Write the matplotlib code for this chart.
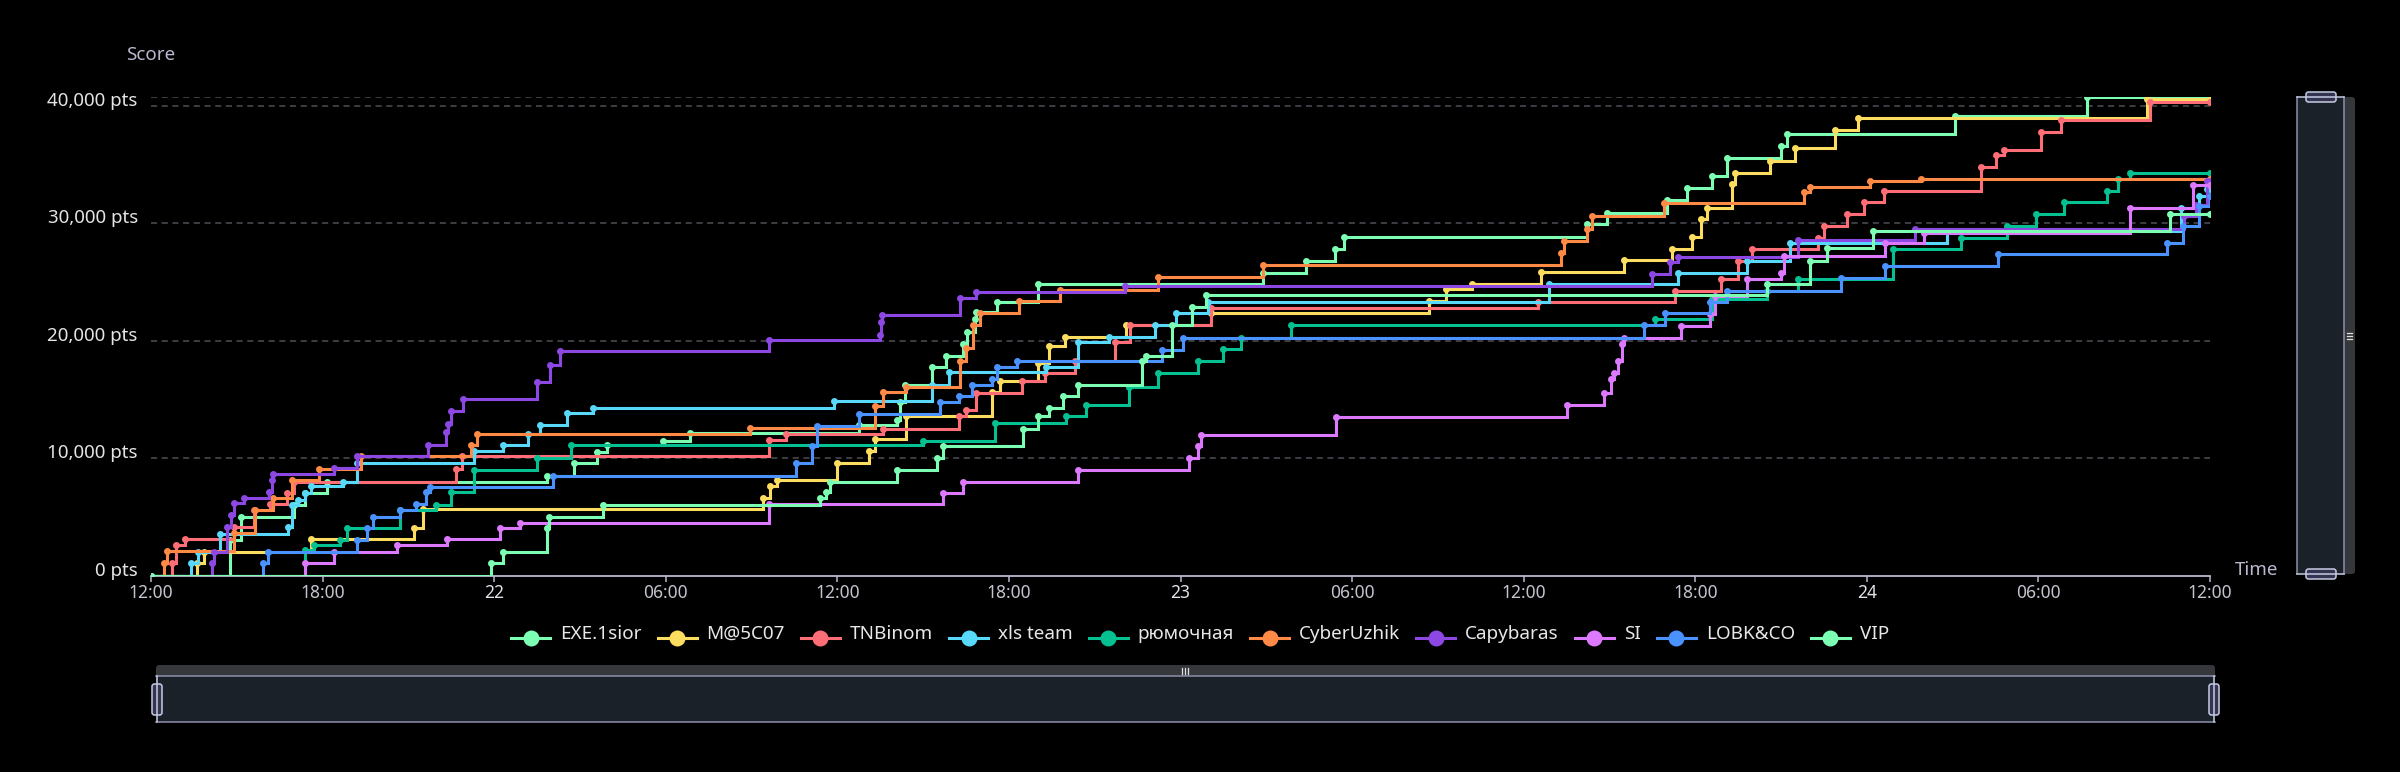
import matplotlib
matplotlib.use("Agg")
import matplotlib.pyplot as plt
from matplotlib.lines import Line2D
from matplotlib.patches import Rectangle, FancyBboxPatch
from matplotlib.transforms import IdentityTransform

plt.rcParams["font.family"] = ["Noto Sans", "DejaVu Sans"]

W, H = 2400, 772
BG = "#000000"
AXIS = "#b9b8ce"
GRID = "#4e4e56"

# hours since 21st 12:00 -> cumulative score
exe_t = [0, 2.75, 3.14, 5.0, 5.4, 6.14, 13.85, 14.8, 15.6, 15.95, 17.9, 18.85, 24.75, 26.1, 26.2,
         26.35, 27.3, 27.8, 28.4, 28.55, 28.8, 28.85, 29.6, 31.0, 38.9, 40.4, 41.4, 41.7, 50.2,
         50.9, 53.0, 53.7, 54.6, 55.1, 57.0, 57.2, 63.1, 67.7, 72]
exe_s = [0, 3040, 5030, 6030, 7020, 8010, 8500, 9580, 10490, 11080, 11480, 12140, 12790, 13270,
         14750, 16260, 17770, 18730, 19670, 20720, 21800, 22400, 23270, 24780, 25780, 26770,
         27830, 28850, 29900, 30890, 31970, 32970, 34010, 35500, 36570, 37570, 39130, 40750, 40750]

m5_t = [0, 1.6, 1.85, 5.6, 9.2, 9.5, 21.4, 21.65, 21.9, 24.0, 25.1, 25.3, 26.4, 29.4, 29.7, 31.0,
        31.4, 31.95, 34.1, 37.05, 44.7, 45.3, 46.2, 48.6, 51.5, 53.2, 53.9, 54.2, 54.4, 55.3, 55.4,
        56.6, 57.5, 58.9, 59.7, 69.8, 72]
m5_s = [0, 1100, 2050, 3100, 4040, 5660, 6600, 7590, 8160, 9630, 10570, 11630, 13560, 15600,
        16600, 18100, 19580, 20320, 21370, 22370, 23360, 24360, 24780, 25830, 26850, 27830, 28850,
        30320, 31320, 33300, 34300, 35300, 36350, 37940, 38960, 40550, 40550]

tnb_t = [0, 0.75, 0.87, 1.18, 2.9, 3.6, 4.17, 4.77, 5.0, 10.65, 10.86, 21.6, 22.2, 25.6, 28.25,
         28.5, 28.85, 30.45, 31.26, 32.3, 33.7, 34.25, 37.05, 48.5, 53.3, 54.9, 55.5, 56.0, 58.3,
         58.5, 59.3, 59.9, 60.6, 64.0, 64.5, 64.8, 66.1, 66.8, 69.9, 72]
tnb_s = [0, 1100, 2620, 3100, 4180, 5600, 6110, 7050, 8010, 9100, 10150, 11570, 12080, 12500,
         13560, 14130, 15550, 16540, 17250, 18240, 19900, 21290, 22800, 23270, 24210, 25270,
         26770, 27770, 28760, 29750, 30750, 31750, 32740, 34730, 35780, 36230, 37770, 38790,
         40270, 40270]

xls_t = [0, 1.4, 1.64, 2.43, 4.8, 4.92, 5.15, 5.4, 5.6, 6.7, 7.2, 11.3, 12.3, 13.2, 13.6, 14.55,
         15.45, 23.9, 27.3, 27.9, 31.3, 32.4, 33.5, 35.1, 35.85, 36.95, 48.9, 53.4, 55.8, 57.3,
         62.8, 71.0, 71.6, 71.9, 72]
xls_s = [0, 1080, 2050, 3550, 4180, 6030, 6450, 7050, 7590, 8010, 9580, 10570, 11080, 12080,
         12850, 13840, 14270, 14830, 16260, 17310, 17770, 19860, 20320, 21370, 22370, 23270,
         24780, 25780, 26770, 28340, 29330, 31240, 32310, 32900, 32900]

ryu_t = [0, 5.4, 5.7, 6.6, 6.85, 8.7, 9.97, 10.5, 11.3, 13.5, 14.7, 27.0, 29.5, 32.0, 32.7, 34.2,
         35.2, 36.6, 37.5, 38.1, 39.85, 52.6, 54.6, 56.5, 57.6, 60.9, 63.3, 64.9, 65.9, 66.9, 68.4,
         68.8, 69.2, 72]
ryu_s = [0, 2190, 2620, 3040, 4040, 5600, 6030, 7160, 9010, 10010, 11080, 11480, 12990, 13560,
         14530, 16060, 17250, 18300, 19300, 20240, 21290, 21800, 23500, 24210, 25270, 27770,
         28760, 29750, 30750, 31750, 32740, 33730, 34250, 34250]

cyb_t = [0, 0.46, 0.55, 2.9, 3.64, 4.27, 4.93, 5.87, 7.35, 11.2, 11.4, 20.95, 25.3, 25.6, 26.4,
         28.3, 28.5, 28.75, 29.0, 30.35, 31.8, 35.2, 38.9, 49.3, 49.4, 50.2, 50.4, 52.9, 57.8,
         58.0, 60.1, 61.9, 72]
cyb_s = [0, 1080, 2130, 3640, 5600, 6620, 8160, 9100, 10200, 11140, 12080, 12560, 14410, 15600,
         16060, 18240, 19390, 21370, 22370, 23360, 24300, 25400, 26400, 27480, 28470, 29470,
         30600, 31690, 32650, 33110, 33590, 33790, 33790]

cap_t = [0, 2.12, 2.2, 2.66, 2.78, 2.9, 3.25, 4.13, 4.23, 4.25, 6.4, 7.2, 9.67, 10.3, 10.4, 10.5,
         10.9, 13.5, 13.95, 14.3, 21.6, 25.5, 25.52, 25.55, 28.3, 28.85, 34.05, 52.5, 53.1, 53.4,
         57.6, 61.7, 71.1, 71.5, 71.9, 72]
cap_s = [0, 1100, 2050, 4180, 5170, 6200, 6620, 7160, 8160, 8670, 9180, 10150, 11140, 12190,
         12930, 13980, 15060, 16450, 17960, 19100, 20070, 20500, 21570, 22140, 23590, 24130,
         24640, 25630, 26650, 27080, 28600, 29530, 30600, 31500, 33600, 33600]

si_t = [0, 5.4, 6.4, 8.6, 10.36, 12.2, 12.9, 21.6, 27.7, 28.4, 32.4, 36.3, 36.6, 36.7, 41.45,
        49.5, 50.8, 51.05, 51.15, 51.3, 51.45, 51.5, 53.5, 54.5, 54.7, 55.8, 57.0, 57.1, 60.65,
        62.0, 69.2, 71.4, 72]
si_s = [0, 1100, 2050, 2620, 3100, 4040, 4520, 6110, 7020, 8010, 9010, 10010, 11000, 12000,
        13500, 14500, 15550, 16740, 17250, 18240, 19750, 20240, 21230, 22230, 23790, 25210,
        25720, 27200, 28280, 29190, 31240, 33220, 33220]

lobk_t = [0, 3.9, 4.1, 7.2, 7.56, 7.75, 8.7, 9.26, 9.6, 9.76, 14.07, 22.55, 23.1, 23.3, 24.75,
          27.6, 28.25, 28.7, 29.4, 29.6, 30.3, 35.35, 36.07, 52.2, 52.95, 54.5, 55.1, 59.1, 60.65,
          64.6, 70.5, 71.05, 71.6, 72]
lobk_s = [0, 1100, 2050, 3040, 4040, 5030, 5600, 6110, 7160, 7540, 8500, 9580, 11060, 12760,
          13790, 14750, 15260, 16260, 16740, 17770, 18240, 19240, 20240, 21370, 22370, 23270,
          24210, 25350, 26340, 27340, 28340, 29750, 31460, 32310]

vip_t = [0, 11.9, 12.3, 13.85, 13.9, 15.8, 23.4, 23.6, 23.75, 26.1, 27.5, 27.7, 30.5, 31.0, 31.4,
         31.9, 32.4, 34.65, 34.8, 35.7, 36.4, 36.9, 56.5, 58.0, 58.6, 60.2, 70.6, 72]
vip_s = [0, 1080, 2050, 4070, 5030, 6030, 6620, 7160, 8010, 9000, 10000, 11000, 12500, 13560,
         14300, 15260, 16260, 18240, 18730, 21370, 22880, 23850, 24780, 26740, 27850, 29330,
         30800, 30800]

teams = ["EXE.1sior", "M@5C07", "TNBinom", "xls team", "рюмочная",
         "CyberUzhik", "Capybaras", "SI", "LOBK&CO", "VIP"]
colors = ["#7cffb2", "#fddd60", "#ff6e76", "#58d9f9", "#05c091",
          "#ff8a45", "#8d48e3", "#dd79ff", "#4992ff", "#7cffb2"]
series = [(exe_t, exe_s), (m5_t, m5_s), (tnb_t, tnb_s), (xls_t, xls_s), (ryu_t, ryu_s),
          (cyb_t, cyb_s), (cap_t, cap_s), (si_t, si_s), (lobk_t, lobk_s), (vip_t, vip_s)]

x_ticks = [0, 6, 12, 18, 24, 30, 36, 42, 48, 54, 60, 66, 72]
x_labels = ["12:00", "18:00", "22", "06:00", "12:00", "18:00", "23",
            "06:00", "12:00", "18:00", "24", "06:00", "12:00"]
y_ticks = [0, 10000, 20000, 30000, 40000]


def P(x, y):
    # pixel (from top-left) -> display coords
    return x, H - y


fig = plt.figure(figsize=(W / 100, H / 100), dpi=100, facecolor=BG)
ax = fig.add_axes([151 / W, 1 - 575.7 / H, 2059 / W, 479 / H])
ax.set_facecolor(BG)

for (t, s), c in zip(series, colors):
    ax.plot(t, s, drawstyle="steps-post", color=c, lw=2.2, solid_joinstyle="miter")
    ax.plot(t, s, "o", color=c, ms=5, mew=0)

ymax = max(max(s) for _, s in series)
ax.set_xlim(0, 72)
ax.set_ylim(0, ymax)
for v in y_ticks[1:] + [ymax]:
    ax.axhline(v, color=GRID, lw=1.1, ls=(0, (4, 3)), zorder=0)

for sp in ["top", "right", "left"]:
    ax.spines[sp].set_visible(False)
ax.spines["bottom"].set_color(AXIS)
ax.spines["bottom"].set_linewidth(1.3)
ax.spines["bottom"].set_zorder(0.5)

ax.set_xticks(x_ticks)
ax.set_xticklabels(x_labels)
ax.tick_params(axis="x", colors=AXIS, length=4, width=1.1, pad=2, labelsize=12.5,
               labelcolor="#c4c4d0")
for lab in ax.get_xticklabels():
    if ":" not in lab.get_text():
        lab.set_fontweight("bold")
        lab.set_color("#e2e2ea")

ax.set_yticks(y_ticks)
ax.set_yticklabels([f"{v:,} pts" for v in y_ticks])
ax.tick_params(axis="y", length=0, pad=9.5, labelsize=13.5, labelcolor="#e4e4e4")
for lab in ax.get_yticklabels():
    lab.set_va("baseline")

fig.text(151 / W, 1 - 55 / H, "Score", ha="center", va="center", fontsize=13.5, color="#b9b8ce")
fig.text(2235 / W, 1 - 570 / H, "Time", ha="left", va="center", fontsize=13.5, color="#b9b8ce")

# legend, centred below the plot
renderer = fig.canvas.get_renderer()
icon_w, text_gap, item_gap = 39, 10, 16
labels = []
for name in teams:
    txt = fig.text(0, 1 - 639 / H, name, fontsize=13.6, color="#e8e8e8", ha="left", va="baseline")
    labels.append((txt, txt.get_window_extent(renderer).width))
total = sum(icon_w + text_gap + w for _, w in labels) + item_gap * (len(labels) - 1)
x = W / 2 - total / 2
for (txt, w), c in zip(labels, colors):
    fig.add_artist(Line2D([x / W, (x + icon_w) / W], [1 - 637.5 / H] * 2,
                          transform=fig.transFigure, color=c, lw=2.2))
    fig.add_artist(Line2D([(x + icon_w / 2) / W], [1 - 637.5 / H], transform=fig.transFigure,
                          marker="o", ms=11.5, color=c, mew=0))
    txt.set_x((x + icon_w + text_gap) / W)
    x += icon_w + text_gap + w + item_gap

# slider widgets
ID = IdentityTransform()
FILL, BORDER, HANDLE, HEDGE, MOVE = "#1b2129", "#8e8fab", "#353450", "#c5cbe3", "#35373b"


def rect(x0, y0, x1, y1, **kw):
    fig.add_artist(Rectangle(P(x0, y1), x1 - x0, y1 - y0, transform=ID, **kw))


def rrect(x0, y0, x1, y1, r=3, **kw):
    fig.add_artist(FancyBboxPatch(P(x0 + r, y1 - r), x1 - x0 - 2 * r, y1 - y0 - 2 * r,
                                  boxstyle=f"round,pad={r}", transform=ID, **kw))


def seg(x0, y0, x1, y1, **kw):
    a, b = P(x0, y0), P(x1, y1)
    fig.add_artist(Line2D([a[0], b[0]], [a[1], b[1]], transform=ID, **kw))


# horizontal slider
rrect(156, 665, 2215, 680, r=3, facecolor=MOVE, edgecolor="none")
rect(156, 676, 2215, 722, facecolor=FILL, edgecolor="none")
seg(156, 676, 2215, 676, color=BORDER, lw=1.1)
seg(156, 722, 2215, 722, color=BORDER, lw=1.1)
for dx in (-3, 0, 3):
    seg(1185 + dx, 667.5, 1185 + dx, 673.5, color="#e0e0e0", lw=0.9)
for hx in (157, 2214):
    seg(hx, 676, hx, 722, color=HEDGE, lw=1.1)
    rrect(hx - 5, 684, hx + 5, 715, r=2.5, facecolor=HANDLE, edgecolor=HEDGE, lw=1.1)

# vertical slider
rrect(2340, 97, 2355, 574, r=3, facecolor=MOVE, edgecolor="none")
rect(2297, 97, 2344, 574, facecolor=FILL, edgecolor="none")
seg(2297, 97, 2297, 574, color=BORDER, lw=1.1)
seg(2344, 97, 2344, 574, color=BORDER, lw=1.1)
for dy in (-3, 0, 3):
    seg(2347, 336 + dy, 2352, 336 + dy, color="#e0e0e0", lw=0.9)
for hy in (97, 574):
    seg(2297, hy, 2344, hy, color=HEDGE, lw=1.1)
    rrect(2306, hy - 5, 2336, hy + 5, r=2.5, facecolor=HANDLE, edgecolor=HEDGE, lw=1.1)

fig.savefig("out.png", dpi=100, facecolor=BG)
